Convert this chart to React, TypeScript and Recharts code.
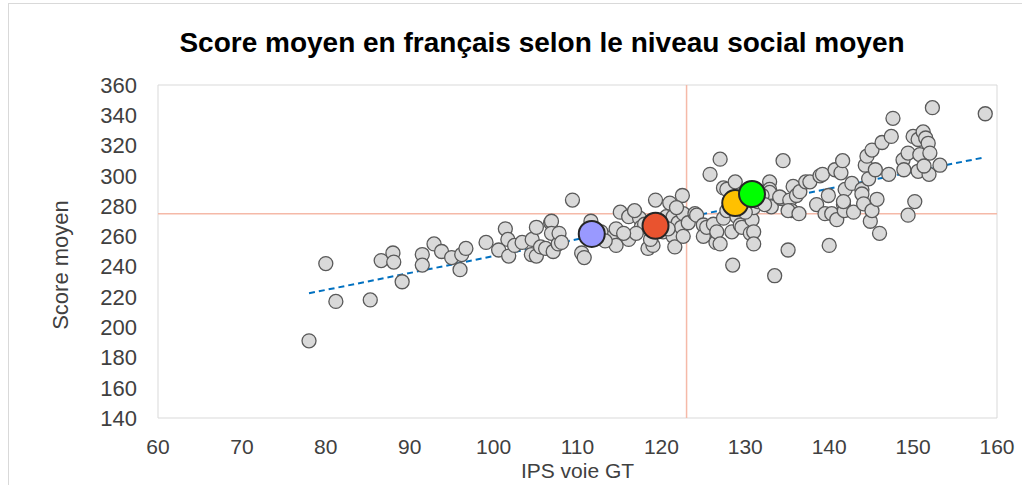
import { ScatterChart, Scatter, XAxis, YAxis, ReferenceLine, ReferenceArea } from 'recharts';

// établissements (IPS voie GT / score moyen)
const ipsValues = [
  78.0, 80.0, 81.2, 85.3, 86.6, 88.0, 88.1, 89.1, 91.5, 91.5, 92.9, 93.8, 95.0, 96.0, 96.2, 96.7,
  99.1, 100.6, 101.4, 101.7, 101.8, 102.5, 103.4, 104.6, 105.1, 104.5, 105.1, 105.6, 106.2, 106.8,
  106.9, 106.9, 107.1, 107.7, 107.8, 108.1, 109.4, 110.5, 110.8, 111.6,
  113.9, 114.6, 114.6, 115.1, 116.1, 116.1, 117.4, 117.6, 118.4, 119.0, 119.3, 120.2, 120.6, 121.0,
  121.4, 121.4, 121.6, 122.5, 122.0, 122.4, 122.6, 122.6, 123.2, 124.0, 124.2, 125.0, 125.0, 125.4,
  125.8, 126.2, 126.5, 126.6, 127.0, 127.4, 127.4, 127.8, 127.8, 128.4, 128.5, 128.8, 129.0, 129.4,
  129.6, 130.6, 130.8, 131.0, 131.0, 131.0, 127.0,
  132.9, 132.9, 132.9, 133.1, 133.5, 134.5, 134.3, 134.1, 135.1, 135.3, 135.5, 135.1, 135.7, 136.4,
  136.1, 136.5, 137.2, 137.7, 138.5, 138.9, 139.2, 139.5, 139.9, 140.0, 140.3, 140.7, 140.9, 141.4,
  141.6, 141.7, 141.9, 141.8, 141.7, 142.7, 142.9, 143.9, 143.9, 144.1, 144.3, 144.5, 144.7, 144.9,
  145.1, 145.1, 145.5, 145.7, 146.0, 146.3, 147.1, 147.4, 147.6, 148.8, 148.9, 149.4, 149.4, 150.0,
  150.2, 150.6, 150.6, 150.8, 151.2, 151.5, 151.8, 151.9, 152.0, 151.3, 152.3, 153.2, 158.6,
  129.8, 130.2, 128.2, 131.5, 132.0, 130.0, 132.3,
  118.0, 119.8, 120.8, 121.8, 117.0, 115.5, 112.8, 113.3, 118.7, 116.8,
];

const scoreValues = [
  191, 242, 217, 218, 244, 249, 243, 230, 248, 241, 255, 250, 246, 238, 248, 252,
  256, 251, 265, 258, 247, 254, 256, 258, 266, 248, 247, 253, 252, 269,
  270, 262, 250, 255, 262, 256, 284, 249, 246, 270,
  259, 265, 254, 276, 273, 258, 272, 266, 252, 254, 284, 263, 273, 282,
  273, 260, 253, 287, 269, 266, 275, 260, 269, 275, 274, 267.5, 260, 266,
  301, 268, 256, 263, 311, 272, 292, 277, 291, 263, 241, 296, 273, 267.5,
  266, 262, 271, 263, 255, 279, 255,
  296, 291, 289, 279.5, 234, 310, 285, 286, 251, 284, 277, 277, 293, 275,
  287, 289.5, 296, 296, 281, 300, 301, 275, 287, 254, 275, 304, 271, 302,
  310, 281, 291, 277, 283, 295, 276, 291, 288, 281.5, 307, 313, 298, 270,
  317, 277, 304, 284.5, 262, 322, 301, 326, 338, 310.5, 304, 315, 274, 326,
  283, 324, 303, 314, 329, 325, 321.5, 301, 315, 306.5, 345, 307, 341,
  285, 290, 280, 283, 287, 276, 281,
  268, 270, 265, 279, 262, 262, 263, 257, 258, 277,
];

// points mis en évidence
const highlightIps = [111.7, 119.3, 128.8, 130.8];
const highlightScores = [261.6, 267, 282, 288];
const highlightFills = ['#9999FF', '#E9532F', '#FFC000', '#00FF00'];

const xTicks = [60, 70, 80, 90, 100, 110, 120, 130, 140, 150, 160];
const yTicks = [140, 160, 180, 200, 220, 240, 260, 280, 300, 320, 340, 360];

const refIps = 123;
const refScore = 275;
const trendStart = { x: 78, y: 222.4 };
const trendEnd = { x: 158.5, y: 312.2 };

const font = 'Liberation Sans, Arial, sans-serif';

const points = ipsValues.map((x, i) => ({ x, y: scoreValues[i] }));

const GrayDot = (props: any) => (
  <circle cx={props.cx} cy={props.cy} r={7} fill="#D9D9D9" stroke="#595959" strokeWidth={1.3} />
);

const BigDot = (props: any) => (
  <circle cx={props.cx} cy={props.cy} r={13} fill={props.fill} stroke="#262626" strokeWidth={2} />
);

export default function App() {
  return (
    <div style={{ position: 'absolute', left: 0, top: 0, width: 1022, height: 485, overflow: 'hidden', background: '#fff', fontFamily: font }}>
      <div style={{ position: 'absolute', left: 8, top: 3, width: 1040, height: 520, border: '1px solid #D9D9D9' }} />
      <div style={{ position: 'absolute', left: 0, top: 27, width: 1084, textAlign: 'center', fontSize: 28, fontWeight: 'bold', color: '#000' }}>
        Score moyen en français selon le niveau social moyen
      </div>
      <div style={{ position: 'absolute', left: 0, top: 0 }}>
        <ScatterChart width={1022} height={485} margin={{ top: 85, right: 25, bottom: 0, left: 0 }}>
          <XAxis
            type="number"
            dataKey="x"
            domain={[60, 160]}
            ticks={xTicks}
            interval={0}
            axisLine={false}
            tickLine={false}
            tickSize={0}
            tickMargin={21}
            height={67}
            tick={{ fontSize: 21, fill: '#404040', fontFamily: font }}
            label={{
              content: (p: any) => (
                <text x={p.viewBox.x + p.viewBox.width / 2} y={478} textAnchor="middle" fontSize={21} fill="#404040" fontFamily={font}>
                  IPS voie GT
                </text>
              ),
            }}
          />
          <YAxis
            type="number"
            dataKey="y"
            domain={[140, 360]}
            ticks={yTicks}
            interval={0}
            axisLine={false}
            tickLine={false}
            tickSize={0}
            tickMargin={21}
            width={158}
            tick={{ fontSize: 22, fill: '#404040', fontFamily: font }}
            label={{
              content: () => (
                <text x={60} y={265} dy="0.35em" transform="rotate(-90 60 265)" textAnchor="middle" fontSize={22} fill="#404040" fontFamily={font}>
                  Score moyen
                </text>
              ),
            }}
          />
          <ReferenceArea x1={60} x2={160} y1={140} y2={360} fill="none" stroke="#D9D9D9" strokeWidth={1} />
          <ReferenceLine x={refIps} stroke="#F5B9A8" strokeWidth={1.5} />
          <ReferenceLine y={refScore} stroke="#F5B9A8" strokeWidth={1.5} />
          <Scatter data={points} shape={GrayDot} isAnimationActive={false} />
          {highlightIps.map((x, i) => (
            <Scatter
              key={i}
              data={[{ x, y: highlightScores[i] }]}
              fill={highlightFills[i]}
              shape={BigDot}
              isAnimationActive={false}
            />
          ))}
          <ReferenceLine segment={[trendStart, trendEnd]} stroke="#0070C0" strokeWidth={2} strokeDasharray="6 4" />
        </ScatterChart>
      </div>
    </div>
  );
}
